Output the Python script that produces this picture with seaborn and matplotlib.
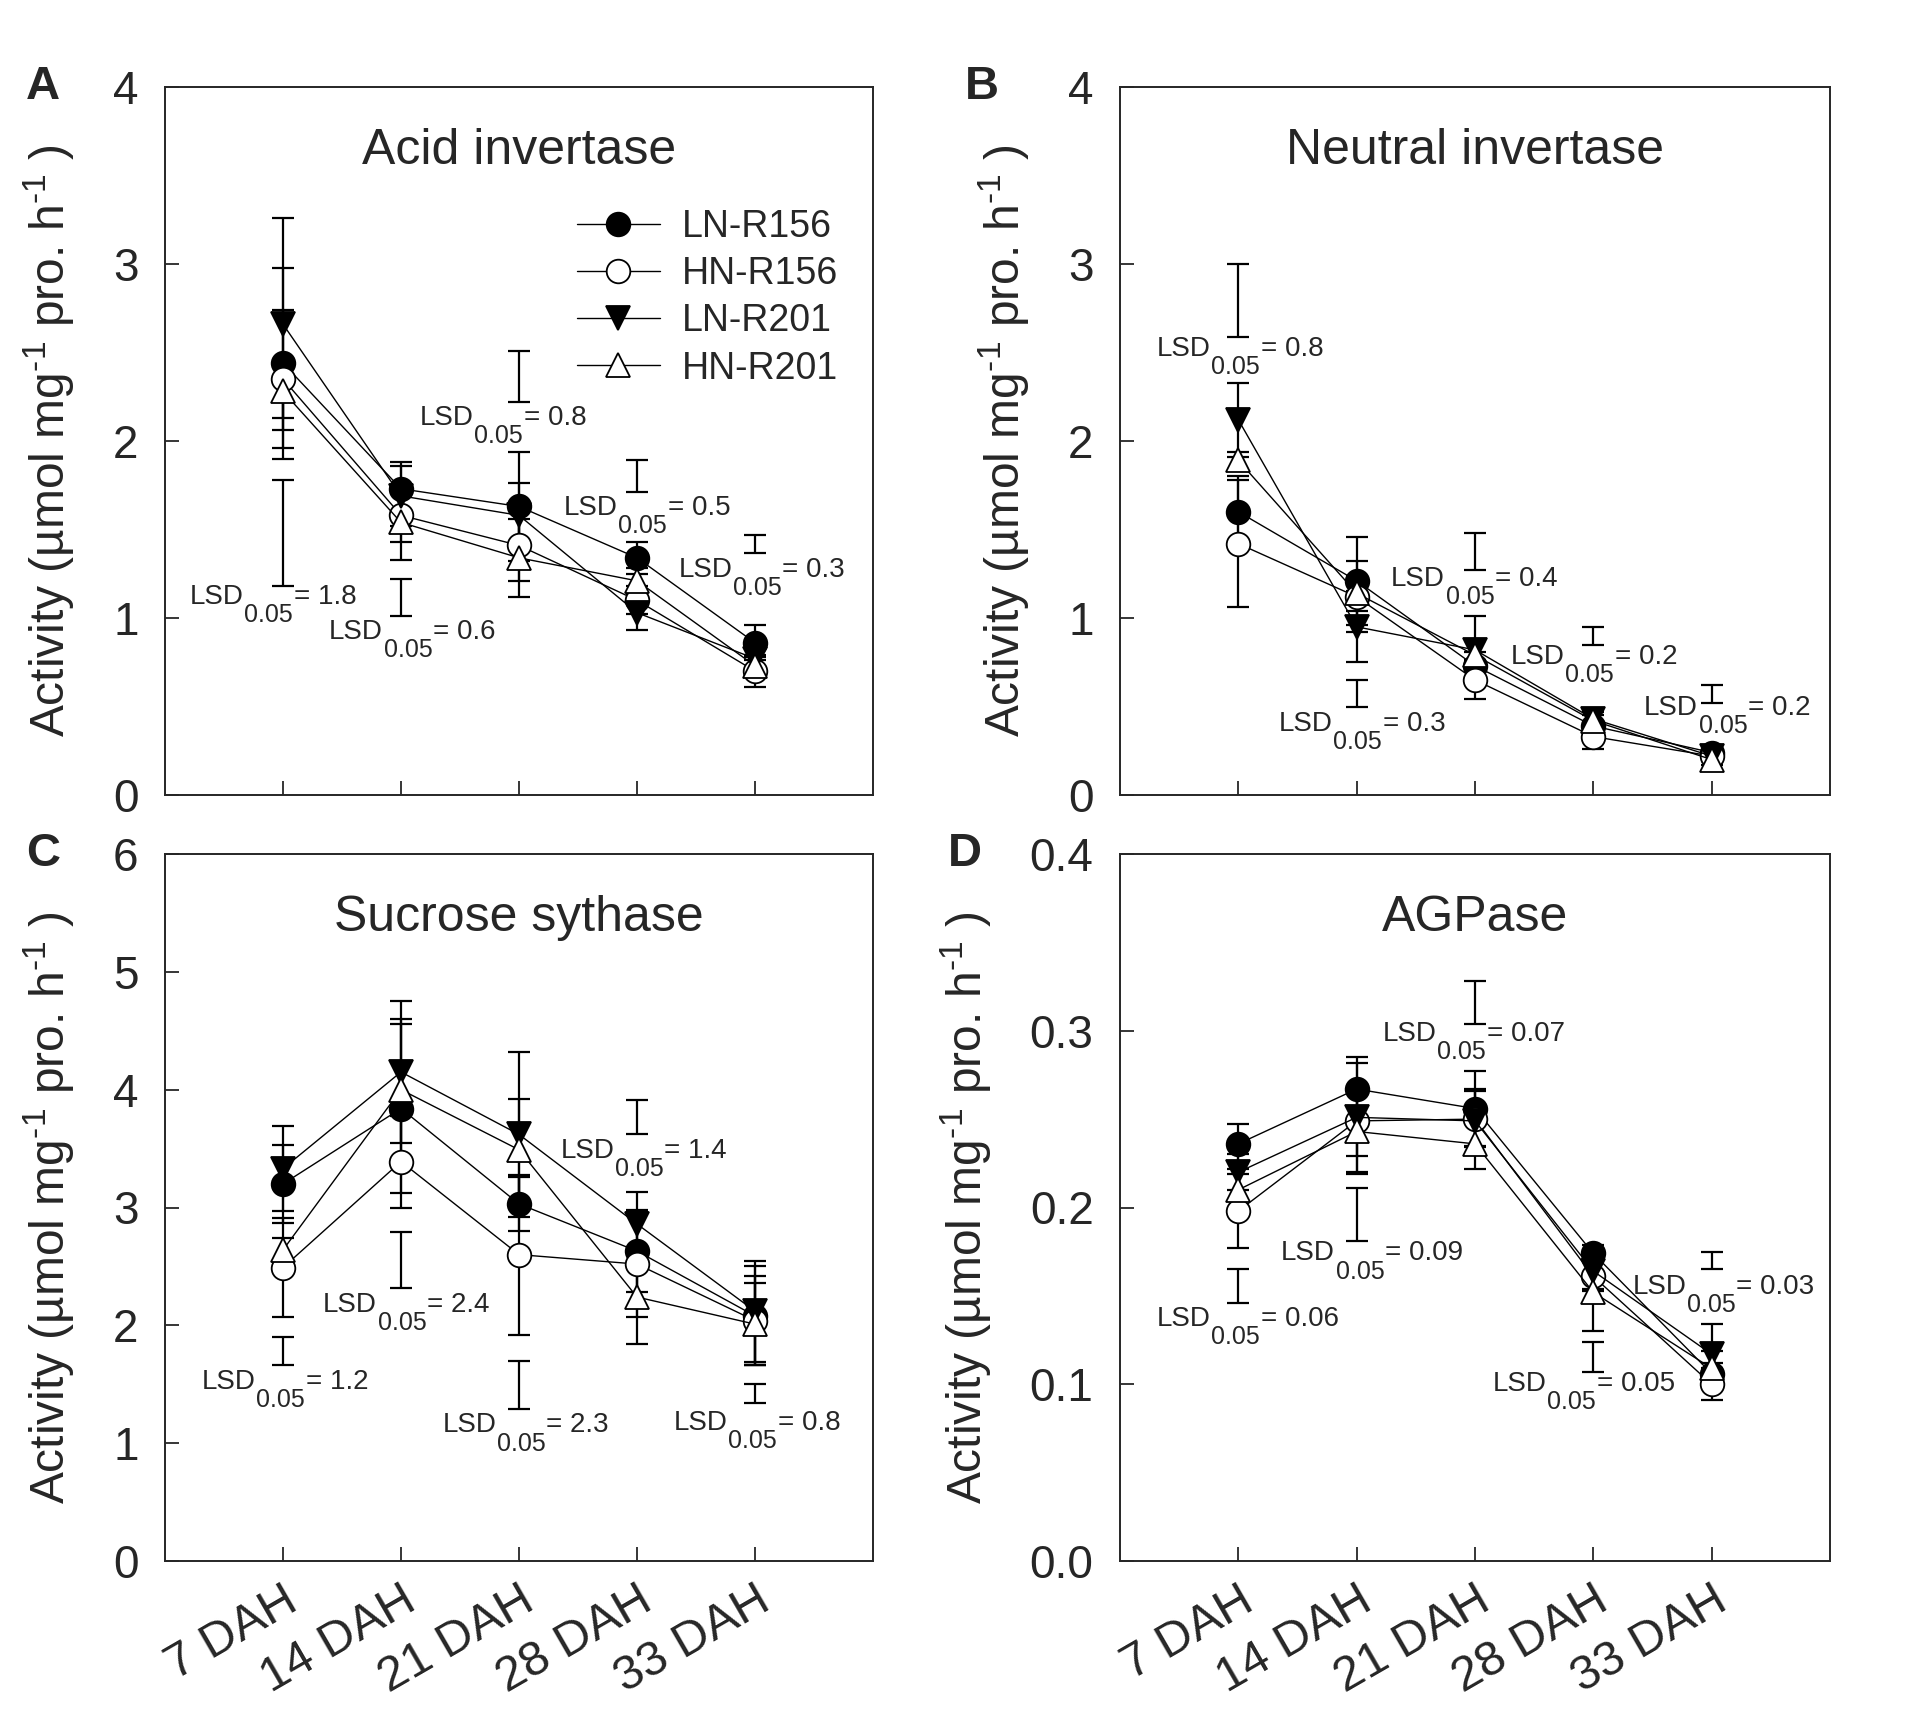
import numpy as np
import pandas as pd
import matplotlib
matplotlib.use("Agg")
import matplotlib.pyplot as plt
import seaborn as sns

# -------------------------------
# Data
# -------------------------------
stages = ["7 DAH", "14 DAH", "21 DAH", "28 DAH", "33 DAH"]
series = ["LN-R156", "HN-R156", "LN-R201", "HN-R201"]

# A - Acid invertase
acid_mean = {
    "LN-R156": [2.44, 1.73, 1.63, 1.34, 0.86],
    "HN-R156": [2.35, 1.58, 1.41, 1.10, 0.70],
    "LN-R201": [2.66, 1.69, 1.58, 1.03, 0.77],
    "HN-R201": [2.28, 1.54, 1.34, 1.21, 0.73],
}
acid_err = {
    "LN-R156": [0.54, 0.15, 0.31, 0.09, 0.10],
    "HN-R156": [0.39, 0.15, 0.20, 0.08, 0.09],
    "LN-R201": [0.60, 0.17, 0.18, 0.10, 0.06],
    "HN-R201": [0.15, 0.21, 0.22, 0.07, 0.05],
}
acid_lsd_lo = [1.18, 1.01, 2.22, 1.71, 1.37]
acid_lsd_hi = [1.78, 1.22, 2.51, 1.89, 1.47]
acid_lsd_txt = ["1.8", "0.6", "0.8", "0.5", "0.3"]
acid_lsd_x = [-0.79, 0.39, 1.16, 2.38, 3.35]
acid_lsd_y = [1.12, 0.92, 2.13, 1.62, 1.27]

# B - Neutral invertase
neutral_mean = {
    "LN-R156": [1.60, 1.21, 0.73, 0.39, 0.24],
    "HN-R156": [1.42, 1.12, 0.65, 0.33, 0.22],
    "LN-R201": [2.12, 0.95, 0.82, 0.43, 0.22],
    "HN-R201": [1.89, 1.14, 0.79, 0.42, 0.20],
}
neutral_err = {
    "LN-R156": [0.20, 0.25, 0.08, 0.06, 0.03],
    "HN-R156": [0.36, 0.20, 0.11, 0.07, 0.03],
    "LN-R201": [0.21, 0.20, 0.19, 0.05, 0.03],
    "HN-R201": [0.05, 0.10, 0.08, 0.05, 0.03],
}
neutral_lsd_lo = [2.59, 0.50, 1.27, 0.85, 0.52]
neutral_lsd_hi = [3.00, 0.65, 1.48, 0.95, 0.62]
neutral_lsd_txt = ["0.8", "0.3", "0.4", "0.2", "0.2"]
neutral_lsd_x = [-0.69, 0.34, 1.29, 2.30, 3.43]
neutral_lsd_y = [2.52, 0.40, 1.22, 0.78, 0.49]

# C - Sucrose sythase
sus_mean = {
    "LN-R156": [3.20, 3.84, 3.03, 2.63, 2.08],
    "HN-R156": [2.49, 3.39, 2.60, 2.52, 2.04],
    "LN-R201": [3.33, 4.15, 3.62, 2.86, 2.12],
    "HN-R201": [2.64, 4.00, 3.49, 2.24, 2.01],
}
sus_err = {
    "LN-R156": [0.33, 0.72, 0.23, 0.35, 0.42],
    "HN-R156": [0.42, 0.39, 0.68, 0.45, 0.38],
    "LN-R201": [0.36, 0.60, 0.70, 0.27, 0.43],
    "HN-R201": [0.10, 0.60, 0.43, 0.40, 0.35],
}
sus_lsd_lo = [1.66, 2.32, 1.29, 3.62, 1.34]
sus_lsd_hi = [1.90, 2.79, 1.70, 3.91, 1.50]
sus_lsd_txt = ["1.2", "2.4", "2.3", "1.4", "0.8"]
sus_lsd_x = [-0.69, 0.34, 1.35, 2.35, 3.31]
sus_lsd_y = [1.52, 2.17, 1.15, 3.48, 1.17]

# D - AGPase
agp_mean = {
    "LN-R156": [0.236, 0.267, 0.256, 0.174, 0.106],
    "HN-R156": [0.198, 0.249, 0.250, 0.161, 0.100],
    "LN-R201": [0.220, 0.251, 0.249, 0.164, 0.117],
    "HN-R201": [0.210, 0.243, 0.236, 0.152, 0.109],
}
agp_err = {
    "LN-R156": [0.011, 0.018, 0.021, 0.005, 0.006],
    "HN-R156": [0.021, 0.020, 0.016, 0.008, 0.009],
    "LN-R201": [0.010, 0.031, 0.018, 0.010, 0.017],
    "HN-R201": [0.012, 0.024, 0.014, 0.022, 0.010],
}
agp_lsd_lo = [0.146, 0.181, 0.304, 0.107, 0.165]
agp_lsd_hi = [0.165, 0.211, 0.328, 0.124, 0.175]
agp_lsd_txt = ["0.06", "0.09", "0.07", "0.05", "0.03"]
agp_lsd_x = [-0.69, 0.36, 1.22, 2.15, 3.33]
agp_lsd_y = [0.137, 0.174, 0.298, 0.100, 0.155]

# -------------------------------
# Style
# -------------------------------
sns.set_style("ticks")
plt.rcParams["font.family"] = ["Liberation Sans", "DejaVu Sans"]
plt.rcParams["mathtext.fontset"] = "custom"
plt.rcParams["mathtext.rm"] = "Liberation Sans"
plt.rcParams["mathtext.it"] = "Liberation Sans"
plt.rcParams["mathtext.default"] = "regular"

marker_style = {
    "LN-R156": dict(marker="o", markerfacecolor="black"),
    "HN-R156": dict(marker="o", markerfacecolor="white"),
    "LN-R201": dict(marker="v", markerfacecolor="black"),
    "HN-R201": dict(marker="^", markerfacecolor="white"),
}

ylabel = "Activity (\u00b5mol mg$^{\\text{-}1}$ pro. h$^{\\text{-}1}$ )"

fig = plt.figure(figsize=(19.11, 17.30), dpi=100)
W, H = 1911, 1730
axA = fig.add_axes([165 / W, 1 - 795 / H, 708 / W, 708 / H])
axB = fig.add_axes([1120 / W, 1 - 795 / H, 710 / W, 708 / H])
axC = fig.add_axes([165 / W, 1 - 1561 / H, 708 / W, 707 / H])
axD = fig.add_axes([1120 / W, 1 - 1561 / H, 710 / W, 707 / H])

panels = [
    (axA, "A", -0.172, "Acid invertase", acid_mean, acid_err, acid_lsd_lo, acid_lsd_hi,
     acid_lsd_txt, acid_lsd_x, acid_lsd_y, (0, 4), [0, 1, 2, 3, 4], "%d", False),
    (axB, "B", -0.194, "Neutral invertase", neutral_mean, neutral_err, neutral_lsd_lo, neutral_lsd_hi,
     neutral_lsd_txt, neutral_lsd_x, neutral_lsd_y, (0, 4), [0, 1, 2, 3, 4], "%d", False),
    (axC, "C", -0.172, "Sucrose sythase", sus_mean, sus_err, sus_lsd_lo, sus_lsd_hi,
     sus_lsd_txt, sus_lsd_x, sus_lsd_y, (0, 6), [0, 1, 2, 3, 4, 5, 6], "%d", True),
    (axD, "D", -0.218, "AGPase", agp_mean, agp_err, agp_lsd_lo, agp_lsd_hi,
     agp_lsd_txt, agp_lsd_x, agp_lsd_y, (0, 0.4), [0.0, 0.1, 0.2, 0.3, 0.4], "%.1f", True),
]

xpos = np.arange(len(stages))
lsd_fs = 20

for (ax, letter, letter_x, title, means, errs, lo, hi, txt, tx, ty, ylim, yticks, fmt, show_x) in panels:
    for s in series:
        df = pd.DataFrame({"x": xpos, "y": means[s]})
        ax.errorbar(xpos, means[s], yerr=errs[s], fmt="none", ecolor="black",
                    elinewidth=1.6, capsize=8, capthick=1.6, zorder=2)
        sns.lineplot(data=df, x="x", y="y", ax=ax, color="black", linewidth=1.0,
                     markersize=17, markeredgecolor="black", markeredgewidth=1.3,
                     label=s, zorder=3, **marker_style[s])

    # LSD bars
    lo = np.array(lo)
    hi = np.array(hi)
    ax.errorbar(xpos, (lo + hi) / 2, yerr=(hi - lo) / 2, fmt="none", ecolor="black",
                elinewidth=1.6, capsize=8, capthick=1.6, zorder=2)
    for i in range(len(stages)):
        t1 = ax.text(tx[i], ty[i], "LSD", fontsize=lsd_fs, ha="left", va="center")
        t2 = ax.annotate("0.05", xy=(1, 0), xycoords=t1, xytext=(0.5, 5),
                         textcoords="offset points", fontsize=lsd_fs * 0.9,
                         ha="left", va="top")
        ax.annotate("= " + txt[i], xy=(1, 0), xycoords=(t2, t1), xytext=(0.5, 0),
                    textcoords="offset points", fontsize=lsd_fs,
                    ha="left", va="bottom")

    ax.set_xlim(-1, 5)
    ax.set_ylim(*ylim)
    ax.set_yticks(yticks)
    ax.set_yticklabels([fmt % v for v in yticks])
    ax.set_xticks(xpos)
    if show_x:
        ax.set_xticklabels(stages, rotation=30, ha="right", rotation_mode="anchor",
                           fontsize=35)
    else:
        ax.set_xticklabels([])
    ax.tick_params(axis="both", direction="in", length=10, width=1.3,
                   labelsize=33, pad=12)
    ax.tick_params(axis="x", labelsize=35)
    ax.tick_params(axis="y", pad=19)
    ax.set_xlabel("")
    ax.set_ylabel(ylabel, fontsize=34.5, labelpad=26)
    for sp in ax.spines.values():
        sp.set_linewidth(1.4)
    ax.set_title(title, fontsize=36, y=0.88)
    ax.text(letter_x, 1.0, letter, transform=ax.transAxes, fontsize=34,
            fontweight="bold", ha="center", va="center")
    if letter == "A":
        ax.legend(loc="upper left", bbox_to_anchor=(0.582, 0.828), frameon=False,
                  fontsize=27, handlelength=2.2, handletextpad=0.6, labelspacing=0.3,
                  borderpad=0, borderaxespad=0)
    else:
        ax.get_legend().remove()

plt.savefig("out.png", dpi=100)
